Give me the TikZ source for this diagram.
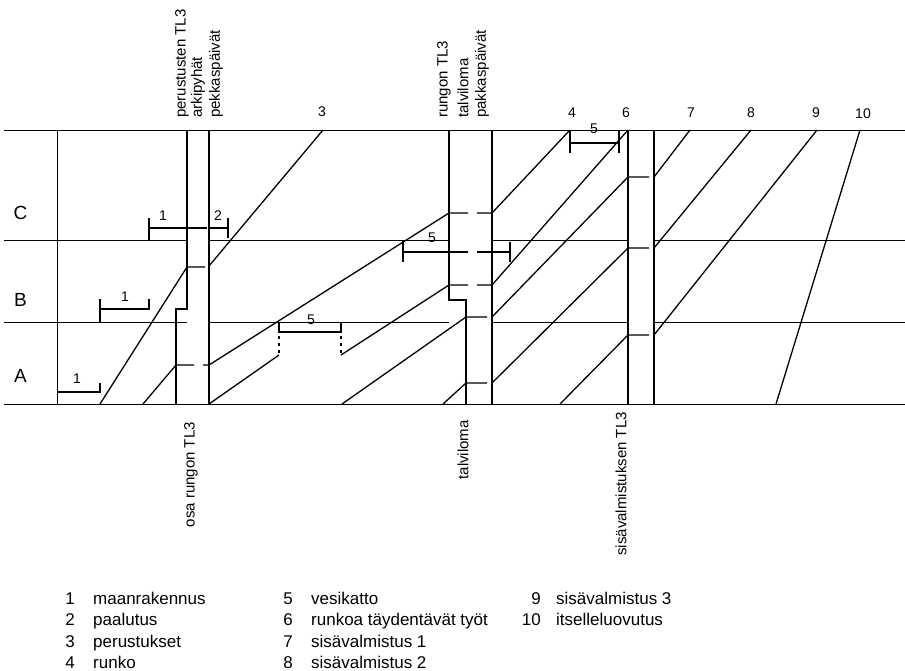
\documentclass[tikz,border=0pt]{standalone}
\usepackage{fontspec}
\setmainfont{Liberation Sans}
\begin{document}
\begin{tikzpicture}[x=1pt,y=-1pt,
  gridln/.style={line width=1pt},
  bar/.style={line width=1.3pt},
  dotln/.style={line width=1.3pt, dash pattern=on 3pt off 4pt},
  lbl/.style={font=\fontsize{14}{16}\selectfont, inner sep=0},
  rot/.style={rotate=90, font=\fontsize{15}{17}\selectfont, inner sep=0},
  rowlbl/.style={font=\fontsize{19}{22}\selectfont, inner sep=0},
  legnum/.style={font=\fontsize{17}{20}\selectfont, inner sep=0, anchor=base},
  legtxt/.style={font=\fontsize{17}{20}\selectfont, inner sep=0, anchor=base west}]
\useasboundingbox (0,0) rectangle (905,670);

% horizontal lines
\draw[gridln] (4,130) -- (905,130);
\draw[gridln] (4,404) -- (905,404);
\draw[gridln] (4,240) -- (187,240) (209,240) -- (449,240) (492,240) -- (628,240) (654,240) -- (905,240);
\draw[gridln] (4,322) -- (187,322) (209,322) -- (449,322) (492,322) -- (628,322) (654,322) -- (905,322);

% vertical lines / columns
\draw[gridln] (57,130) -- (57,404);
\draw[bar] (187,130) -- (187,309) -- (176,309) -- (176,404);
\draw[bar] (209,130) -- (209,404);
\draw[bar] (449,130) -- (449,300) -- (466,300) -- (466,404);
\draw[bar] (492,130) -- (492,404);
\draw[bar] (628,130) -- (628,404);
\draw[bar] (654,130) -- (654,404);

% brackets 1 and 2
\draw[bar] (57,392) -- (100,392) (100,383) -- (100,393);
\draw[bar] (100,299) -- (100,322) (100,309) -- (149,309) (149,299) -- (149,310);
\draw[bar] (149,218) -- (149,240) (149,228) -- (207,228);
\draw[bar] (210,228) -- (228,228) (228,218) -- (228,238);

% diagonal 1 -> 3
\draw[bar] (100,404) -- (187,267) -- (205,267);
\draw[bar] (209,266) -- (323,130);

% diagonal 2 -> 4
\draw[bar] (143,404) -- (176,365) -- (194,365) (203,365) -- (209,365);
\draw[bar] (209,365) -- (449,213) -- (468,213) (477,213) -- (492,213);
\draw[bar] (492,213) -- (570,130);

% diagonal starting at col1 bottom -> 6
\draw[bar] (209,404) -- (279,355);
\draw[bar] (279,322) -- (279,333) (279,332) -- (341,332) (341,323) -- (341,333);
\draw[dotln] (279,336) -- (279,353) (341,336) -- (341,353);
\draw[bar] (341,355) -- (449,285) -- (468,285) (477,285) -- (492,285);
\draw[bar] (492,285) -- (628,130);

% bracket 5 (middle)
\draw[bar] (403,240) -- (403,262) (403,252) -- (468,252) (477,252) -- (510,252) (510,242) -- (510,262);

% bracket 5 (top)
\draw[bar] (570,130) -- (570,153) (570,143) -- (619,143) (619,130) -- (619,153);

% diagonal -> 7
\draw[bar] (342,404) -- (466,317) -- (487,317);
\draw[bar] (492,317) -- (628,177) -- (649,177);
\draw[bar] (654,177) -- (690,130);

% diagonal -> 8
\draw[bar] (443,404) -- (466,383) -- (487,383);
\draw[bar] (492,383) -- (628,248) -- (649,248);
\draw[bar] (654,248) -- (751,130);

% diagonal -> 9
\draw[bar] (560,404) -- (628,335) -- (649,335);
\draw[bar] (654,335) -- (817,130);

% diagonal 10
\draw[bar] (776,404) -- (860,130);

% top rotated labels
\node[rot, anchor=west] (tPerus) at (182,118) {perustusten TL3};
\node[rot, anchor=west] (tArki) at (198,118) {arkipyhät};
\node[rot, anchor=west] (tPekka) at (216,118) {pekkaspäivät};
\node[rot, anchor=west] (tRungon) at (444,118) {rungon TL3};
\node[rot, anchor=west] (tTalvi) at (463,118) {talviloma};
\node[rot, anchor=west] (tPakkas) at (482,118) {pakkaspäivät};

% bottom rotated labels
\node[rot, anchor=east] (bOsa) at (191,422) {osa rungon TL3};
\node[rot, anchor=east] (bTalvi) at (463,420) {talviloma};
\node[rot, anchor=east] (bSisa) at (621,412) {sisävalmistuksen TL3};

% top numbers
\node[lbl] (n3) at (322,112) {3};
\node[lbl] (n4) at (572,113) {4};
\node[lbl] (n6) at (626,113) {6};
\node[lbl] (n7) at (691,113) {7};
\node[lbl] (n8) at (751,113) {8};
\node[lbl] (n9) at (816,113) {9};
\node[lbl] (n10) at (863,114) {10};
\node[lbl] (n5top) at (594,129) {5};

% bracket labels
\node[lbl] (b1a) at (77,379) {1};
\node[lbl] (b1b) at (125,297) {1};
\node[lbl] (b1c) at (163,216) {1};
\node[lbl] (b2c) at (218,216) {2};
\node[lbl] (b5a) at (311,320) {5};
\node[lbl] (b5b) at (432,238) {5};

% row labels
\node[rowlbl] (rC) at (20.5,213) {C};
\node[rowlbl] (rB) at (20.5,300) {B};
\node[rowlbl] (rA) at (20.5,376) {A};

% legend
\node[legnum] (g1) at (70,604) {1};   \node[legtxt] (g1t) at (93,604) {maanrakennus};
\node[legnum] (g2) at (70,625.5) {2}; \node[legtxt] (g2t) at (93,625.5) {paalutus};
\node[legnum] (g3) at (70,647) {3};   \node[legtxt] (g3t) at (93,647) {perustukset};
\node[legnum] (g4) at (70,668) {4};   \node[legtxt] (g4t) at (93,668) {runko};
\node[legnum] (g5) at (288,604) {5};   \node[legtxt] (g5t) at (311,604) {vesikatto};
\node[legnum] (g6) at (288,625.5) {6}; \node[legtxt] (g6t) at (311,625.5) {runkoa täydentävät työt};
\node[legnum] (g7) at (288,647) {7};   \node[legtxt] (g7t) at (311,647) {sisävalmistus 1};
\node[legnum] (g8) at (288,668) {8};   \node[legtxt] (g8t) at (311,668) {sisävalmistus 2};
\node[legnum, anchor=base east] (g9) at (541,604) {9};    \node[legtxt] (g9t) at (556,604) {sisävalmistus 3};
\node[legnum, anchor=base east] (g10) at (541,625.5) {10}; \node[legtxt] (g10t) at (556,625.5) {itselleluovutus};
\end{tikzpicture}
\end{document}
